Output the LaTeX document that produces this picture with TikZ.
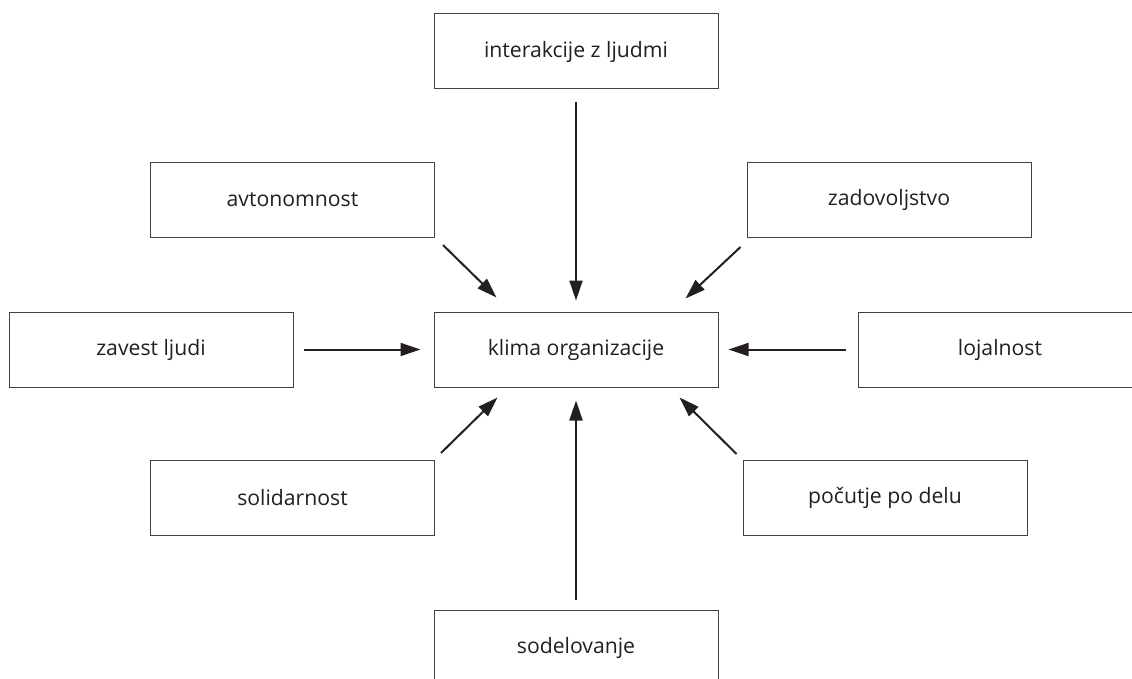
\documentclass[tikz,border=0pt]{standalone}
\usepackage{fontspec}
\setmainfont{Open Sans}
\usetikzlibrary{arrows.meta,calc}
\definecolor{ink}{HTML}{231F20}
\begin{document}
\begin{tikzpicture}[x=1pt,y=-1pt,
  box/.style={draw=ink!85, line width=1pt, minimum width=284pt, minimum height=75pt,
    inner sep=0pt, text=ink, font=\fontsize{21.2}{24}\selectfont},
  arr/.style={draw=ink, line width=2pt, -{Triangle[length=20pt,width=13pt]}}]
\useasboundingbox (0,0) rectangle (1132,679);
\clip (0,0) rectangle (1132,679);
\fill[white] (0,0) rectangle (1132,679);
\node[box] (top)   at (576,51.5)  {interakcije z ljudmi};
\node[box] (avt)   at (292.5,200) {avtonomnost};
\node[box] (zad)   at (889,200)   {zadovoljstvo};
\node[box] (zav)   at (151,349.5) {zavest ljudi};
\node[box] (klima) at (576,349.5) {klima organizacije};
\node[box] (loj)   at (1000,349.5){lojalnost};
\node[box] (sol)   at (292.5,498) {solidarnost};
\node[box] (poc)   at (885,498)   {počutje po delu};
\node[box] (sod)   at (576,647.5) {sodelovanje};
\draw[arr, shorten <=13pt, shorten >=11pt] (top) -- (klima);
\draw[arr, shorten <=10pt, shorten >=13pt] (sod) -- (klima);
\draw[arr, shorten <=10pt, shorten >=13pt] (zav) -- (klima);
\draw[arr, shorten <=12pt, shorten >=10pt] (loj) -- (klima);
\draw[arr] ($(avt.south east)+(8,7)$) -- ($(klima.north west)+(63,-14)$);
\draw[arr] ($(zad.south west)+(-6,9)$) -- ($(klima.north east)+(-33,-13)$);
\draw[arr] ($(sol.north east)+(6,-7)$) -- ($(klima.south west)+(64,10)$);
\draw[arr] ($(poc.north west)+(-6,-6)$) -- ($(klima.south east)+(-39,10)$);
\end{tikzpicture}
\end{document}
